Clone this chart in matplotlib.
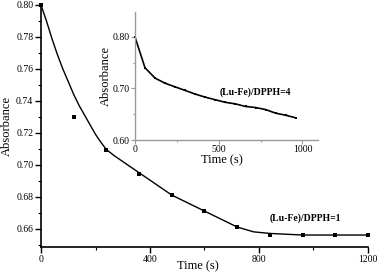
import matplotlib
matplotlib.use('Agg')
import matplotlib.pyplot as plt
from matplotlib.ticker import MultipleLocator

plt.rcParams['font.family'] = ['Liberation Serif', 'DejaVu Serif']
#Serif font, like the reference

# main chart, (Lu-Fe)/DPPH=1
time1 = [0, 120, 240, 360, 480, 600, 720, 840, 960, 1080, 1200]
abs1 = [0.800, 0.730, 0.709, 0.694, 0.681, 0.671, 0.661, 0.656, 0.656, 0.656, 0.656]
# fitted curve
fit_time = [0, 20, 40, 60, 80, 100, 120, 140, 160, 180, 200, 220, 240, 270, 300, 330, 360,
            420, 480, 540, 600, 660, 720, 780, 840, 900, 960, 1080, 1200]
fit_abs = [0.800, 0.790, 0.779, 0.769, 0.760, 0.752, 0.744, 0.737, 0.731, 0.725, 0.719,
           0.714, 0.7095, 0.7055, 0.702, 0.6985, 0.695, 0.688, 0.681, 0.676, 0.671, 0.666,
           0.661, 0.658, 0.657, 0.6565, 0.656, 0.656, 0.656]

# inset, (Lu-Fe)/DPPH=4
time4 = [0, 60, 120, 180, 240, 300, 360, 420, 480, 540, 600, 660, 720, 780, 840, 900, 960]
abs4 = [0.800, 0.740, 0.720, 0.710, 0.703, 0.696, 0.689, 0.683, 0.678, 0.673, 0.670,
        0.665, 0.663, 0.659, 0.652, 0.648, 0.643]

fig = plt.figure(figsize=(3.78, 2.74), dpi=100)
ax = fig.add_axes([0.1085, 0.0985, 0.865, 0.8833])

ax.plot(fit_time, fit_abs, color='black', lw=1.0)
ax.plot(time1, abs1, 's', color='black', ms=2.6, mew=0, clip_on=False)
ax.set_xlim(0, 1200)
ax.set_ylim(0.6485, 0.80)
ax.xaxis.set_major_locator(MultipleLocator(400))
ax.xaxis.set_minor_locator(MultipleLocator(200))
ax.yaxis.set_major_locator(MultipleLocator(0.02))
ax.yaxis.set_minor_locator(MultipleLocator(0.01))
ax.yaxis.set_major_formatter(plt.FormatStrFormatter('%.2f'))
ax.spines['top'].set_visible(False)
ax.spines['right'].set_visible(False)
for s in ['left', 'bottom']:
    ax.spines[s].set_linewidth(1.2)
ax.tick_params(which='major', length=4, width=1, labelsize=7, pad=1.5)
ax.tick_params(which='minor', length=2, width=0.8)
ax.set_xlabel('Time (s)', fontsize=9, va='center')
ax.xaxis.set_label_coords(0.48, -0.079)
ax.set_ylabel('Absorbance', fontsize=9, labelpad=2)
ax.text(972, 0.6668, '(Lu-Fe)/DPPH=1', fontsize=7, fontweight='bold', ha='center', va='center')
#Sets the properties of the main plot

ins = fig.add_axes([0.357, 0.489, 0.484, 0.467])
ins.plot(time4, abs4, color='black', lw=1.2)
ins.plot(time4, abs4, 's', color='black', ms=2.0, mew=0, clip_on=False)
ins.set_xlim(0, 1092)
ins.set_ylim(0.60, 0.848)
ins.xaxis.set_major_locator(MultipleLocator(500))
ins.xaxis.set_minor_locator(MultipleLocator(250))
ins.yaxis.set_major_locator(MultipleLocator(0.10))
ins.yaxis.set_minor_locator(MultipleLocator(0.05))
ins.yaxis.set_major_formatter(plt.FormatStrFormatter('%.2f'))
ins.spines['top'].set_visible(False)
ins.spines['right'].set_visible(False)
for s in ['left', 'bottom']:
    ins.spines[s].set_color('#999999')
    ins.spines[s].set_linewidth(1.0)
ins.tick_params(which='major', length=3, width=0.8, color='#999999', labelsize=7, pad=0.5)
ins.tick_params(which='minor', length=1.5, width=0.8, color='#999999')
ins.set_xlabel('Time (s)', fontsize=9, va='center')
ins.xaxis.set_label_coords(0.475, -0.16)
ins.set_ylabel('Absorbance', fontsize=9, labelpad=1)
ins.text(716, 0.693, '(Lu-Fe)/DPPH=4', fontsize=7, fontweight='bold', ha='center', va='center')
#Sets the properties of the inset plot

fig.savefig('out.png', dpi=100)
